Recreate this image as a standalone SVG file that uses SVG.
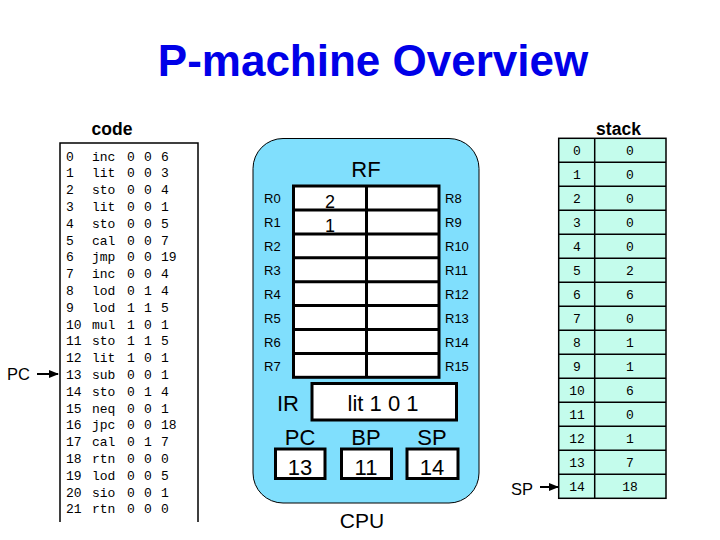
<svg xmlns="http://www.w3.org/2000/svg" width="720" height="540" viewBox="0 0 720 540">
<defs>
<marker id="ah" viewBox="0 0 10 10" refX="9" refY="5" markerWidth="5" markerHeight="5" orient="auto"><path d="M0,1 L10,5 L0,9 z" fill="#000"/></marker>
<style>
.title{font-family:"Liberation Sans",Arial,sans-serif;font-weight:bold;font-size:44px;fill:#0000e8}
.hdr{font-family:"Liberation Sans",Arial,sans-serif;font-weight:bold;font-size:17.5px;fill:#000}
.mono{font-family:"Liberation Mono","Courier New",monospace;font-size:13px;fill:#000}
.sans{font-family:"Liberation Sans",Arial,sans-serif;fill:#000}
.reg{font-family:"Liberation Sans",Arial,sans-serif;font-size:13px;fill:#000}
.big{font-family:"Liberation Sans",Arial,sans-serif;font-size:22px;fill:#000}
.cell{fill:#fff;stroke:#000;stroke-width:3}
.stk{fill:#c4fcec;stroke:#000;stroke-width:1.5}
.conn{stroke:#000;stroke-width:2;fill:none;marker-end:url(#ah)}
</style>
</defs>
<rect width="720" height="540" fill="#fff"/>
<text class="title" x="373" y="76" text-anchor="middle">P-machine Overview</text>

<g id="code">
<text class="hdr" x="112" y="135" text-anchor="middle">code</text>
<path d="M60,522 L60,143 L198,143 L198,522" fill="none" stroke="#000" stroke-width="1.5"/>
<g class="mono">
<text y="160.5"><tspan x="66">0</tspan><tspan x="92">inc</tspan><tspan x="127">0</tspan><tspan x="144">0</tspan><tspan x="161">6</tspan></text>
<text y="177.3"><tspan x="66">1</tspan><tspan x="92">lit</tspan><tspan x="127">0</tspan><tspan x="144">0</tspan><tspan x="161">3</tspan></text>
<text y="194.1"><tspan x="66">2</tspan><tspan x="92">sto</tspan><tspan x="127">0</tspan><tspan x="144">0</tspan><tspan x="161">4</tspan></text>
<text y="210.9"><tspan x="66">3</tspan><tspan x="92">lit</tspan><tspan x="127">0</tspan><tspan x="144">0</tspan><tspan x="161">1</tspan></text>
<text y="227.7"><tspan x="66">4</tspan><tspan x="92">sto</tspan><tspan x="127">0</tspan><tspan x="144">0</tspan><tspan x="161">5</tspan></text>
<text y="244.5"><tspan x="66">5</tspan><tspan x="92">cal</tspan><tspan x="127">0</tspan><tspan x="144">0</tspan><tspan x="161">7</tspan></text>
<text y="261.3"><tspan x="66">6</tspan><tspan x="92">jmp</tspan><tspan x="127">0</tspan><tspan x="144">0</tspan><tspan x="161">19</tspan></text>
<text y="278.1"><tspan x="66">7</tspan><tspan x="92">inc</tspan><tspan x="127">0</tspan><tspan x="144">0</tspan><tspan x="161">4</tspan></text>
<text y="294.9"><tspan x="66">8</tspan><tspan x="92">lod</tspan><tspan x="127">0</tspan><tspan x="144">1</tspan><tspan x="161">4</tspan></text>
<text y="311.7"><tspan x="66">9</tspan><tspan x="92">lod</tspan><tspan x="127">1</tspan><tspan x="144">1</tspan><tspan x="161">5</tspan></text>
<text y="328.5"><tspan x="66">10</tspan><tspan x="92">mul</tspan><tspan x="127">1</tspan><tspan x="144">0</tspan><tspan x="161">1</tspan></text>
<text y="345.3"><tspan x="66">11</tspan><tspan x="92">sto</tspan><tspan x="127">1</tspan><tspan x="144">1</tspan><tspan x="161">5</tspan></text>
<text y="362.1"><tspan x="66">12</tspan><tspan x="92">lit</tspan><tspan x="127">1</tspan><tspan x="144">0</tspan><tspan x="161">1</tspan></text>
<text y="378.9"><tspan x="66">13</tspan><tspan x="92">sub</tspan><tspan x="127">0</tspan><tspan x="144">0</tspan><tspan x="161">1</tspan></text>
<text y="395.7"><tspan x="66">14</tspan><tspan x="92">sto</tspan><tspan x="127">0</tspan><tspan x="144">1</tspan><tspan x="161">4</tspan></text>
<text y="412.5"><tspan x="66">15</tspan><tspan x="92">neq</tspan><tspan x="127">0</tspan><tspan x="144">0</tspan><tspan x="161">1</tspan></text>
<text y="429.3"><tspan x="66">16</tspan><tspan x="92">jpc</tspan><tspan x="127">0</tspan><tspan x="144">0</tspan><tspan x="161">18</tspan></text>
<text y="446.1"><tspan x="66">17</tspan><tspan x="92">cal</tspan><tspan x="127">0</tspan><tspan x="144">1</tspan><tspan x="161">7</tspan></text>
<text y="462.9"><tspan x="66">18</tspan><tspan x="92">rtn</tspan><tspan x="127">0</tspan><tspan x="144">0</tspan><tspan x="161">0</tspan></text>
<text y="479.7"><tspan x="66">19</tspan><tspan x="92">lod</tspan><tspan x="127">0</tspan><tspan x="144">0</tspan><tspan x="161">5</tspan></text>
<text y="496.5"><tspan x="66">20</tspan><tspan x="92">sio</tspan><tspan x="127">0</tspan><tspan x="144">0</tspan><tspan x="161">1</tspan></text>
<text y="513.3"><tspan x="66">21</tspan><tspan x="92">rtn</tspan><tspan x="127">0</tspan><tspan x="144">0</tspan><tspan x="161">0</tspan></text>
</g>
</g>

<g id="pc-label"><text class="sans" x="7" y="380" font-size="16.5">PC</text></g>

<g id="cpu">
<rect x="253" y="138.5" width="226" height="364.5" rx="30" ry="30" fill="#80dffd" stroke="#000" stroke-width="1"/>
<text class="big" x="366" y="177" text-anchor="middle">RF</text>
<g id="rf">
<rect class="cell" x="293.5" y="186" width="145.5" height="191.3"/>
<path d="M366.5,186 V377.3 M293.5,210 H439 M293.5,233.9 H439 M293.5,257.8 H439 M293.5,281.7 H439 M293.5,305.6 H439 M293.5,329.5 H439 M293.5,353.4 H439" stroke="#000" stroke-width="3" fill="none"/>
<g class="reg">
<text x="264" y="203">R0</text><text x="264" y="227">R1</text><text x="264" y="251">R2</text><text x="264" y="275">R3</text>
<text x="264" y="299">R4</text><text x="264" y="323">R5</text><text x="264" y="347">R6</text><text x="264" y="371">R7</text>
<text x="445" y="203">R8</text><text x="445" y="227">R9</text><text x="445" y="251">R10</text><text x="445" y="275">R11</text>
<text x="445" y="299">R12</text><text x="445" y="323">R13</text><text x="445" y="347">R14</text><text x="445" y="371">R15</text>
</g>
<text class="sans" x="330" y="208" font-size="18" text-anchor="middle">2</text>
<text class="sans" x="330" y="232" font-size="18" text-anchor="middle">1</text>
</g>
<g id="ir">
<text class="big" x="277" y="411">IR</text>
<rect class="cell" x="312" y="383.5" width="144.5" height="36.5"/>
<text class="big" x="383" y="411" text-anchor="middle" font-size="23">lit 1 0 1</text>
</g>
<g id="pc">
<text class="big" x="300" y="445" text-anchor="middle" font-size="23">PC</text>
<rect class="cell" x="275.5" y="449" width="49.5" height="29.5"/>
<text class="big" x="300" y="475" text-anchor="middle" font-size="23">13</text>
</g>
<g id="bp">
<text class="big" x="366" y="445" text-anchor="middle" font-size="23">BP</text>
<rect class="cell" x="341.5" y="449" width="50" height="29.5"/>
<text class="big" x="366" y="475" text-anchor="middle" font-size="23">11</text>
</g>
<g id="sp">
<text class="big" x="432" y="445" text-anchor="middle" font-size="23">SP</text>
<rect class="cell" x="407" y="449" width="51" height="29.5"/>
<text class="big" x="432" y="475" text-anchor="middle" font-size="23">14</text>
</g>
<text class="sans" x="362" y="528" font-size="21" text-anchor="middle">CPU</text>
</g>

<g id="stack">
<text class="hdr" x="618.5" y="135" text-anchor="middle">stack</text>
<rect class="stk" x="558.7" y="138.3" width="107.3" height="360"/>
<path d="M594.7,138.3 V498.3 M558.7,162.3 H666 M558.7,186.3 H666 M558.7,210.3 H666 M558.7,234.3 H666 M558.7,258.3 H666 M558.7,282.3 H666 M558.7,306.3 H666 M558.7,330.3 H666 M558.7,354.3 H666 M558.7,378.3 H666 M558.7,402.3 H666 M558.7,426.3 H666 M558.7,450.3 H666 M558.7,474.3 H666" stroke="#000" stroke-width="1.5" fill="none"/>
<g class="mono" text-anchor="middle">
<text x="577" y="155">0</text><text x="630" y="155">0</text>
<text x="577" y="179">1</text><text x="630" y="179">0</text>
<text x="577" y="203">2</text><text x="630" y="203">0</text>
<text x="577" y="227">3</text><text x="630" y="227">0</text>
<text x="577" y="251">4</text><text x="630" y="251">0</text>
<text x="577" y="275">5</text><text x="630" y="275">2</text>
<text x="577" y="299">6</text><text x="630" y="299">6</text>
<text x="577" y="323">7</text><text x="630" y="323">0</text>
<text x="577" y="347">8</text><text x="630" y="347">1</text>
<text x="577" y="371">9</text><text x="630" y="371">1</text>
<text x="577" y="395">10</text><text x="630" y="395">6</text>
<text x="577" y="419">11</text><text x="630" y="419">0</text>
<text x="577" y="443">12</text><text x="630" y="443">1</text>
<text x="577" y="467">13</text><text x="630" y="467">7</text>
<text x="577" y="491">14</text><text x="630" y="491">18</text>
</g>
</g>

<g id="sp-label"><text class="sans" x="511" y="495" font-size="16.5">SP</text></g>

<g id="connectors">
<line class="conn" x1="37" y1="374" x2="58" y2="374"/>
<line class="conn" x1="540" y1="487" x2="558" y2="487"/>
</g>
</svg>
